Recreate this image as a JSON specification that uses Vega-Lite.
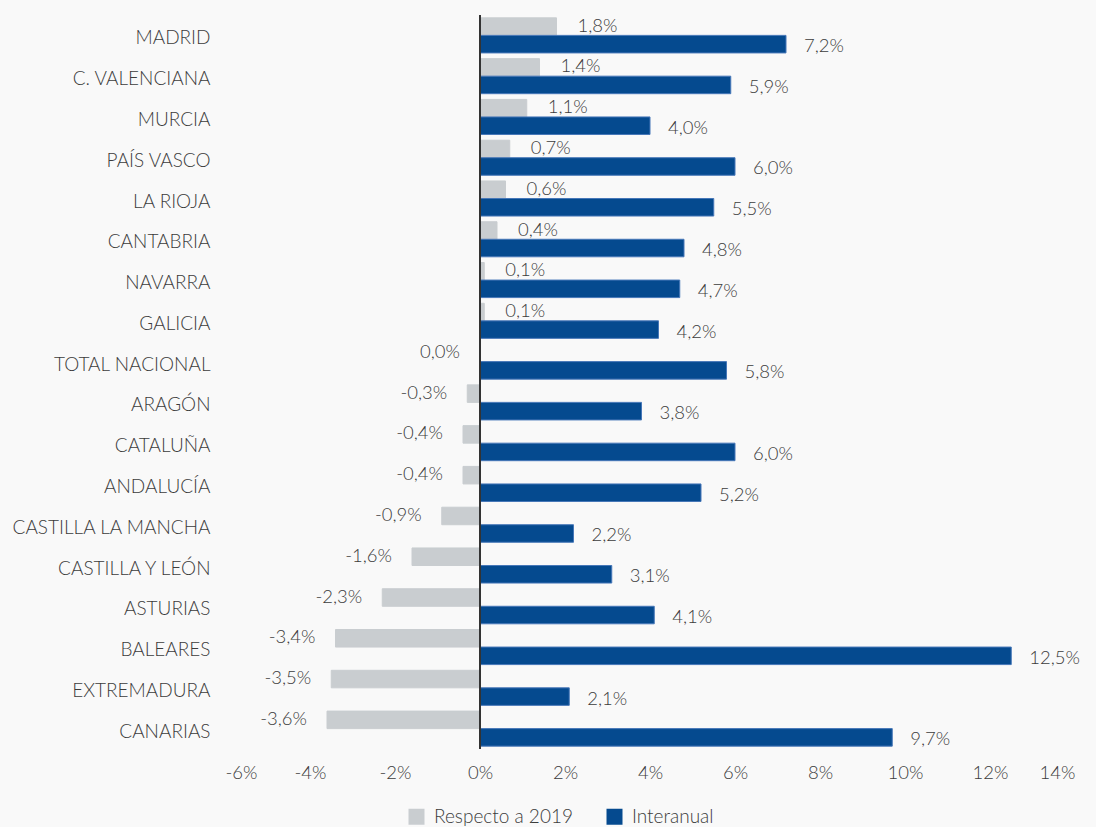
{
  "$schema": "https://vega.github.io/schema/vega-lite/v6.json",
  "width": 850,
  "height": 734,
  "autosize": "none",
  "padding": {"left": 225, "top": 15, "right": 21, "bottom": 78},
  "background": "#f9f9f9",
  "config": {
    "view": {"stroke": null},
    "font": "Lato",
    "text": {"font": "Lato", "fontSize": 18.5, "fontWeight": 300, "color": "#3c3c3c"}
  },
  "data": {
    "values": [
      {"region": "MADRID", "serie": "Respecto a 2019", "value": 1.8},
      {"region": "MADRID", "serie": "Interanual", "value": 7.2},
      {"region": "C. VALENCIANA", "serie": "Respecto a 2019", "value": 1.4},
      {"region": "C. VALENCIANA", "serie": "Interanual", "value": 5.9},
      {"region": "MURCIA", "serie": "Respecto a 2019", "value": 1.1},
      {"region": "MURCIA", "serie": "Interanual", "value": 4.0},
      {"region": "PAÍS VASCO", "serie": "Respecto a 2019", "value": 0.7},
      {"region": "PAÍS VASCO", "serie": "Interanual", "value": 6.0},
      {"region": "LA RIOJA", "serie": "Respecto a 2019", "value": 0.6},
      {"region": "LA RIOJA", "serie": "Interanual", "value": 5.5},
      {"region": "CANTABRIA", "serie": "Respecto a 2019", "value": 0.4},
      {"region": "CANTABRIA", "serie": "Interanual", "value": 4.8},
      {"region": "NAVARRA", "serie": "Respecto a 2019", "value": 0.1},
      {"region": "NAVARRA", "serie": "Interanual", "value": 4.7},
      {"region": "GALICIA", "serie": "Respecto a 2019", "value": 0.1},
      {"region": "GALICIA", "serie": "Interanual", "value": 4.2},
      {"region": "TOTAL NACIONAL", "serie": "Respecto a 2019", "value": 0.0},
      {"region": "TOTAL NACIONAL", "serie": "Interanual", "value": 5.8},
      {"region": "ARAGÓN", "serie": "Respecto a 2019", "value": -0.3},
      {"region": "ARAGÓN", "serie": "Interanual", "value": 3.8},
      {"region": "CATALUÑA", "serie": "Respecto a 2019", "value": -0.4},
      {"region": "CATALUÑA", "serie": "Interanual", "value": 6.0},
      {"region": "ANDALUCÍA", "serie": "Respecto a 2019", "value": -0.4},
      {"region": "ANDALUCÍA", "serie": "Interanual", "value": 5.2},
      {"region": "CASTILLA LA MANCHA", "serie": "Respecto a 2019", "value": -0.9},
      {"region": "CASTILLA LA MANCHA", "serie": "Interanual", "value": 2.2},
      {"region": "CASTILLA Y LEÓN", "serie": "Respecto a 2019", "value": -1.6},
      {"region": "CASTILLA Y LEÓN", "serie": "Interanual", "value": 3.1},
      {"region": "ASTURIAS", "serie": "Respecto a 2019", "value": -2.3},
      {"region": "ASTURIAS", "serie": "Interanual", "value": 4.1},
      {"region": "BALEARES", "serie": "Respecto a 2019", "value": -3.4},
      {"region": "BALEARES", "serie": "Interanual", "value": 12.5},
      {"region": "EXTREMADURA", "serie": "Respecto a 2019", "value": -3.5},
      {"region": "EXTREMADURA", "serie": "Interanual", "value": 2.1},
      {"region": "CANARIAS", "serie": "Respecto a 2019", "value": -3.6},
      {"region": "CANARIAS", "serie": "Interanual", "value": 9.7}
    ]
  },
  "transform": [
    {"calculate": "replace(replace(format(datum.value, '.1f'), '.', ','), '\u2212', '-') + '%'", "as": "label"}
  ],
  "encoding": {
    "y": {
      "field": "region",
      "type": "nominal",
      "sort": ["MADRID", "C. VALENCIANA", "MURCIA", "PAÍS VASCO", "LA RIOJA", "CANTABRIA", "NAVARRA", "GALICIA", "TOTAL NACIONAL", "ARAGÓN", "CATALUÑA", "ANDALUCÍA", "CASTILLA LA MANCHA", "CASTILLA Y LEÓN", "ASTURIAS", "BALEARES", "EXTREMADURA", "CANARIAS"],
      "scale": {"paddingInner": 0.14, "paddingOuter": 0.07},
      "axis": {"title": null, "domain": false, "ticks": false, "labelPadding": 15, "labelOffset": 3, "labelLimit": 260, "labelFontSize": 19, "labelFontWeight": 300, "labelColor": "#3c3c3c", "labelFont": "Lato"}
    },
    "yOffset": {"field": "serie", "type": "nominal", "sort": ["Respecto a 2019", "Interanual"]},
    "x": {
      "field": "value",
      "type": "quantitative",
      "scale": {"domain": [-6, 14], "nice": false, "zero": false},
      "axis": {"title": null, "domain": false, "ticks": false, "grid": false, "values": [-6, -4, -2, 0, 2, 4, 6, 8, 10, 12, 14], "labelExpr": "datum.value + '%'", "labelFontSize": 18.5, "labelFontWeight": 300, "labelPadding": 14, "labelColor": "#3c3c3c", "labelFont": "Lato"}
    }
  },
  "layer": [
    {
      "mark": {"type": "bar", "strokeWidth": 1},
      "encoding": {
        "color": {
          "field": "serie",
          "type": "nominal",
          "scale": {"domain": ["Respecto a 2019", "Interanual"], "range": ["#c9cdd0", "#054a8f"]},
          "legend": {"title": null, "orient": "none", "legendX": 182, "legendY": 792, "direction": "horizontal", "symbolType": "square", "symbolSize": 256, "symbolStrokeWidth": 0, "labelFontSize": 19, "labelFontWeight": 300, "labelFont": "Lato", "labelColor": "#3c3c3c", "labelOffset": 8, "columnPadding": 32}
        },
        "stroke": {
          "field": "serie",
          "type": "nominal",
          "scale": {"domain": ["Respecto a 2019", "Interanual"], "range": ["#c9cdd0", "#4677b8"]},
          "legend": null
        }
      }
    },
    {
      "transform": [{"filter": "datum.serie == 'Respecto a 2019' && datum.value > 0"}],
      "mark": {"type": "text", "align": "left", "baseline": "middle", "dx": 21, "dy": -1},
      "encoding": {"text": {"field": "label"}}
    },
    {
      "transform": [{"filter": "datum.serie == 'Respecto a 2019' && datum.value <= 0"}],
      "mark": {"type": "text", "align": "right", "baseline": "middle", "dx": -20, "dy": -1},
      "encoding": {"text": {"field": "label"}}
    },
    {
      "transform": [{"filter": "datum.serie == 'Interanual'"}],
      "mark": {"type": "text", "align": "left", "baseline": "middle", "dx": 18, "dy": 2},
      "encoding": {"text": {"field": "label"}}
    },
    {
      "mark": {"type": "rule", "color": "#333333", "strokeWidth": 2},
      "encoding": {"x": {"datum": 0}, "y": null, "yOffset": null}
    }
  ]
}
